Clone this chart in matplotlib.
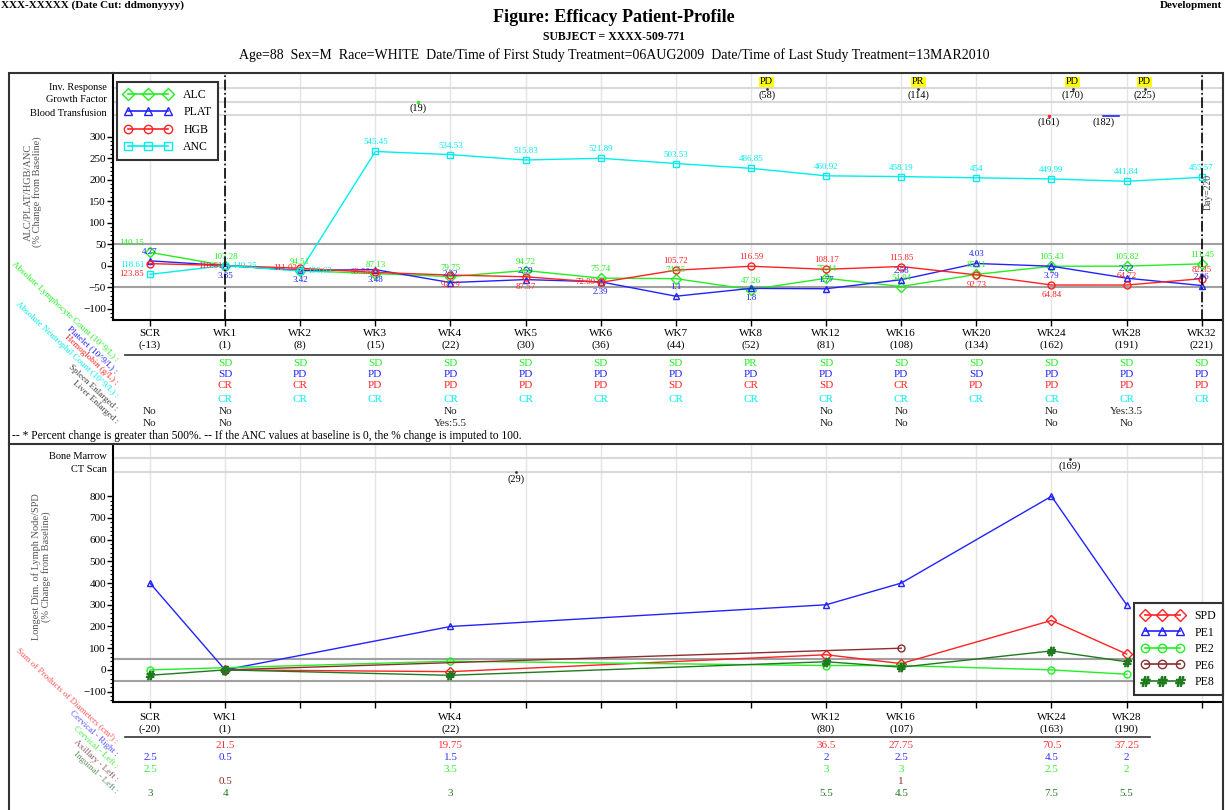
import numpy as np
import matplotlib
matplotlib.use('Agg')
import matplotlib.pyplot as plt
from matplotlib.lines import Line2D
from matplotlib.patches import Rectangle
from matplotlib.transforms import blended_transform_factory as blend

plt.rcParams['font.family'] = ['Liberation Serif', 'DejaVu Serif']

# ---- data: top panel (lab values) ----
visits = ['SCR', 'WK1', 'WK2', 'WK3', 'WK4', 'WK5', 'WK6', 'WK7', 'WK8',
          'WK12', 'WK16', 'WK20', 'WK24', 'WK28', 'WK32']
visit_days = [-13, 1, 8, 15, 22, 30, 36, 44, 52, 81, 108, 134, 162, 191, 221]

alc_val = ['140.15', '107.28', '94.51', '87.13', '79.75', '94.72', '75.74', '74.55',
           '47.26', '75.44', '54.94', '85.11', '105.43', '105.82', '111.45']
alc_pct = [30.6, 0, -11.9, -18.8, -25.7, -11.7, -29.4, -30.5, -55.9, -29.7, -48.8,
           -20.7, -1.7, -1.4, 3.9]
plat_val = ['4.27', '3.85', '3.42', '3.48', '2.32', '2.59', '2.39', '1.1', '1.8',
            '1.77', '2.58', '4.03', '3.79', '2.72', '2.06']
plat_pct = [10.9, 0, -11.2, -9.6, -39.7, -32.7, -37.9, -71.4, -53.2, -54.0, -33.0,
            4.7, -1.6, -29.4, -46.5]
hgb_val = ['123.85', '118.61', '111.02', '99.55', '92.29', '87.57', '72.09', '105.72',
           '116.59', '108.17', '115.85', '92.73', '64.84', '64.72', '82.35']
hgb_pct = [4.4, 0, -6.4, -16.1, -22.2, -26.2, -39.2, -10.9, -1.7, -8.8, -2.3, -21.8,
           -45.3, -45.4, -30.6]
anc_val = ['118.61', '149.35', '130.63', '545.45', '534.53', '515.83', '521.89', '503.53',
           '486.85', '460.92', '458.19', '454', '449.99', '441.84', '455.57']
anc_pct = [-20.6, 0, -12.5, 265.2, 257.9, 245.4, 249.4, 237.2, 226.0, 208.6, 206.8,
           204.0, 201.3, 195.8, 205.0]

alc_resp = ['', 'SD', 'SD', 'SD', 'SD', 'SD', 'SD', 'SD', 'PR', 'SD', 'SD', 'SD', 'SD', 'SD', 'SD']
plat_resp = ['', 'SD', 'PD', 'PD', 'PD', 'PD', 'PD', 'PD', 'PD', 'PD', 'PD', 'SD', 'PD', 'PD', 'PD']
hgb_resp = ['', 'CR', 'CR', 'PD', 'PD', 'PD', 'PD', 'SD', 'CR', 'SD', 'CR', 'PD', 'PD', 'PD', 'PD']
anc_resp = [''] + ['CR'] * 14
spleen = ['No', 'No', '', '', 'No', '', '', '', '', 'No', 'No', '', 'No', 'Yes:3.5', '']
liver = ['No', 'No', '', '', 'Yes:5.5', '', '', '', '', 'No', 'No', '', 'No', 'No', '']

inv_resp = ['PD', 'PR', 'PD', 'PD']
inv_days = [58, 114, 170, 225]
inv_pos = [8.21, 10.23, 12.28, 13.24]
gf_days = [19]
bt_days = [161]
bt_span = [182, 188]

# ---- data: bottom panel (lymph nodes) ----
bvisits = ['SCR', 'WK1', 'WK4', 'WK12', 'WK16', 'WK24', 'WK28']
bdays = [-20, 1, 22, 80, 107, 163, 190]
spd_pct = [np.nan, 0, -8.1, 69.8, 29.1, 227.9, 73.3]
pe1_pct = [400, 0, 200, 300, 400, 800, 300]
pe2_pct = [0, np.nan, 40, 20, 20, 0, -20]
pe6_pct = [np.nan, 0, np.nan, np.nan, 100, np.nan, np.nan]
pe8_pct = [-25, 0, -25, 37.5, 12.5, 87.5, 37.5]
spd_txt = ['', '21.5', '19.75', '36.5', '27.75', '70.5', '37.25']
cr_txt = ['2.5', '0.5', '1.5', '2', '2.5', '4.5', '2']
cl_txt = ['2.5', '', '3.5', '3', '3', '2.5', '2']
al_txt = ['', '0.5', '', '', '1', '', '']
il_txt = ['3', '4', '3', '5.5', '4.5', '7.5', '5.5']
bm_days = [169]
ct_days = [29]

# ---- colours / label placement ----
GRN, BLU, RED, CYN = '#22ee22', '#2222ff', '#ff2222', '#00eeee'
BRN, DGR = '#8b2e2e', '#1f7a1f'
alc_pos = ['al'] + ['a'] * 14
plat_pos = ['a', 'b', 'b', 'b', 'a', 'a', 'b', 'a', 'b', 'a', 'a', 'a', 'b', 'a', 'a']
hgb_pos = ['bl', 'l', 'l', 'l', 'b', 'b', 'l', 'a', 'a', 'a', 'a', 'b', 'b', 'a', 'a']
anc_pos = ['al', 'r', 'r'] + ['a'] * 12
offs = {'a': (0, 9), 'b': (0, -10), 'l': (-15, 0), 'r': (19, 0),
        'al': (-18, 9), 'bl': (-18, -10)}

W, H = 1225, 810


def fx(px):
    return px / W


def fy(py):
    return 1 - py / H


fig = plt.figure(figsize=(W / 100, H / 100), dpi=100)


def ptext(x, y, s, **kw):
    fig.text(fx(x), fy(y), s, **kw)


def hline(x0, x1, y, **kw):
    fig.add_artist(Line2D([fx(x0), fx(x1)], [fy(y), fy(y)], **kw))


# header
ptext(1, 0.5, 'XXX-XXXXX (Date Cut: ddmonyyyy)', fontsize=8, fontweight='bold', va='top')
ptext(1222, 0.5, 'Development', fontsize=8, fontweight='bold', va='top', ha='right')
ptext(614, 17, 'Figure: Efficacy Patient-Profile', fontsize=13, fontweight='bold',
      ha='center', va='center')
ptext(614, 37, 'SUBJECT = XXXX-509-771', fontsize=8.5, fontweight='bold', ha='center', va='center')
ptext(614, 55, 'Age=88  Sex=M  Race=WHITE  Date/Time of First Study Treatment=06AUG2009  '
      'Date/Time of Last Study Treatment=13MAR2010', fontsize=10, ha='center', va='center')

fig.add_artist(Rectangle((fx(8.5), fy(815)), fx(1223) - fx(8.5), fy(73) - fy(815),
                         transform=fig.transFigure, fill=False, lw=1.5, ec='#333333'))
hline(8.5, 1223, 444, color='#333333', lw=1.5)

x = np.arange(len(visits))

# ================= top panel =================
ax1 = fig.add_axes([fx(113), fy(320), fx(1222) - fx(113), fy(73) - fy(320)])
ax1.set_xlim(-0.492, 14.27)
ax1.set_ylim(-126.7, 447.7)
for s in ['top', 'right']:
    ax1.spines[s].set_visible(False)
for s in ['left', 'bottom']:
    ax1.spines[s].set_linewidth(1.5)
for i in x:
    ax1.axvline(i, color='#e4e4e4', lw=1, zorder=0)


def af1(py):
    return (320 - py) / (320 - 73)


for py in [88, 102, 115]:
    ax1.plot([0, 1], [af1(py)] * 2, transform=ax1.transAxes, color='#d9d9d9', lw=1.5, zorder=0)
ax1.axhline(50, color='#a0a0a0', lw=1.5, zorder=1)
ax1.axhline(-50, color='#a0a0a0', lw=1.5, zorder=1)

top_series = [(alc_pct, alc_val, GRN, 'D', alc_pos, 'ALC'),
              (plat_pct, plat_val, BLU, '^', plat_pos, 'PLAT'),
              (hgb_pct, hgb_val, RED, 'o', hgb_pos, 'HGB'),
              (anc_pct, anc_val, CYN, 's', anc_pos, 'ANC')]
handles = []
for pct, lab, col, mk, pos, name in top_series:
    ax1.plot(x, pct, color=col, marker=mk, mfc='none', mec=col, ms=5, lw=1, zorder=3)
    for xi, yi, t, p in zip(x, pct, lab, pos):
        ax1.annotate(t, (xi, yi), xytext=offs[p], textcoords='offset pixels',
                     ha='center', va='center', fontsize=6.5, color=col, zorder=4)
    handles.append(Line2D([], [], color=col, marker=mk, mfc='none', mec=col, ms=6, lw=1.2))

ax1.axvline(1, color='black', ls='-.', lw=1.2, zorder=5)
ax1.axvline(14, color='black', ls='-.', lw=1.2, zorder=5)
ax1.text(14.09, fy(192), 'Day=220', transform=blend(ax1.transData, fig.transFigure),
         rotation=90, ha='center', va='center', fontsize=7, color='#444444')

ax1.set_yticks(np.arange(-100, 301, 50))
ax1.set_yticks(np.arange(-120, 301, 10), minor=True)
ax1.set_xticks(x)
ax1.set_xticklabels([f'{v}\n({d})' for v, d in zip(visits, visit_days)], fontsize=8,
                    linespacing=1.3)
ax1.tick_params(axis='y', labelsize=8, length=4, width=1, direction='out', pad=1)
ax1.tick_params(axis='y', which='minor', length=2, width=0.8)
ax1.tick_params(axis='x', length=4, width=1, pad=2.5)

leg1 = ax1.legend(handles, [t[5] for t in top_series], numpoints=3, handlelength=4.0,
                  loc='upper left', bbox_to_anchor=(fx(117), fy(82)),
                  bbox_transform=fig.transFigure, fontsize=8.5, fancybox=False,
                  edgecolor='#333333', framealpha=1, borderpad=0.6, labelspacing=0.45,
                  handletextpad=1.0, borderaxespad=0)
leg1.get_frame().set_linewidth(1.5)

# event rows
ev1 = blend(ax1.transData, ax1.transAxes)
for xp, t, d in zip(inv_pos, inv_resp, inv_days):
    ax1.text(xp, af1(82), t, transform=ev1, ha='center', va='center', fontsize=7.5,
             bbox=dict(fc='yellow', ec='none', pad=0.6))
    ax1.plot(xp, af1(89), marker='.', ms=2, color='#333333', transform=ev1)
    ax1.text(xp, af1(95.5), f'({d})', transform=ev1, ha='center', va='center', fontsize=7.5)
for d in gf_days:
    xp = np.interp(d, visit_days, x)
    ax1.plot(xp, af1(102), marker='.', ms=3, color=GRN, transform=ev1)
    ax1.text(xp, af1(108.5), f'({d})', transform=ev1, ha='center', va='center', fontsize=7.5)
for d in bt_days:
    xp = np.interp(d, visit_days, x)
    ax1.plot(xp, af1(115.5), marker='.', ms=3, color=RED, transform=ev1)
    ax1.text(xp, af1(122.5), f'({d})', transform=ev1, ha='center', va='center', fontsize=7.5)
xs = np.interp(bt_span, visit_days, x)
ax1.plot(xs, [af1(115.5)] * 2, color=BLU, lw=1.2, transform=ev1)
ax1.text(xs[0], af1(122), f'({bt_span[0]})', transform=ev1, ha='center', va='center', fontsize=7.5)

for t, py in [('Inv. Response', 87), ('Growth Factor', 100), ('Blood Transfusion', 113)]:
    ptext(107, py, t, ha='right', va='center', fontsize=7.5)
ptext(33, 192, 'ALC/PLAT/HGB/ANC\n(% Change from Baseline)', rotation=90, ha='center',
      va='center', fontsize=7.5, color='#555555', linespacing=0.95)

# table under top panel
hline(125, 1222, 355, color='#333333', lw=1.2)
tr1 = blend(ax1.transData, fig.transFigure)
for row, col, py in [(alc_resp, GRN, 363), (plat_resp, BLU, 374.5), (hgb_resp, RED, 386),
                     (anc_resp, CYN, 399), (spleen, '#222222', 412), (liver, '#222222', 423.5)]:
    for xi, s in zip(x, row):
        if s:
            ax1.text(xi, fy(py), s, transform=tr1, ha='center', va='center', fontsize=8,
                     color=col, clip_on=False)
for t, col, py in [('Absolute Lymphocyte Count (10^9/L) :', GRN, 360),
                   ('Platelet (10^9/L) :', BLU, 372),
                   ('Hemoglobin (g/L) :', RED, 384),
                   ('Absolute Neutrophil Count (10^9/L) :', CYN, 397),
                   ('Spleen Enlarged :', '#444444', 410),
                   ('Liver Enlarged :', '#444444', 422)]:
    ptext(117, py, t, ha='right', va='center', rotation=-43, rotation_mode='anchor',
          fontsize=6.5, color=col)
ptext(12, 436.5, '-- * Percent change is greater than 500%. -- If the ANC values at baseline '
      'is 0, the % change is imputed to 100.', ha='left', va='center', fontsize=8.3)

# ================= bottom panel =================
ax2 = fig.add_axes([fx(113), fy(702), fx(1222) - fx(113), fy(444) - fy(702)])
ax2.set_xlim(-0.492, 14.27)
ax2.set_ylim(-148, 1041)
for s in ['top', 'right']:
    ax2.spines[s].set_visible(False)
for s in ['left', 'bottom']:
    ax2.spines[s].set_linewidth(1.5)
for i in x:
    ax2.axvline(i, color='#e4e4e4', lw=1, zorder=0)


def af2(py):
    return (702 - py) / (702 - 444)


for py in [458, 472]:
    ax2.plot([0, 1], [af2(py)] * 2, transform=ax2.transAxes, color='#d9d9d9', lw=1.5, zorder=0)
ax2.axhline(50, color='#a0a0a0', lw=1.5, zorder=1)
ax2.axhline(-50, color='#a0a0a0', lw=1.5, zorder=1)

bx = np.array([visits.index(v) for v in bvisits])
bot_series = [(spd_pct, RED, 'D', 'SPD'), (pe1_pct, BLU, '^', 'PE1'),
              (pe2_pct, GRN, 'o', 'PE2'), (pe6_pct, BRN, 'o', 'PE6'),
              (pe8_pct, DGR, r'$\#$', 'PE8')]
handles2 = []
for pct, col, mk, name in bot_series:
    p = np.array(pct, dtype=float)
    m = ~np.isnan(p)
    ms = 6 if mk.startswith('$') else 5
    ax2.plot(bx[m], p[m], color=col, marker=mk, mfc='none', mec=col, ms=ms, lw=1, zorder=3)
    handles2.append(Line2D([], [], color=col, marker=mk, mfc='none', mec=col, ms=ms + 1, lw=1.2))

ax2.set_yticks(np.arange(-100, 801, 100))
ax2.set_yticks(np.arange(-140, 801, 20), minor=True)
ax2.set_xticks(x)
blab = []
for v in visits:
    if v in bvisits:
        blab.append(f'{v}\n({bdays[bvisits.index(v)]})')
    else:
        blab.append('')
ax2.set_xticklabels(blab, fontsize=8, linespacing=1.3)
ax2.tick_params(axis='y', labelsize=8, length=4, width=1, direction='out', pad=1)
ax2.tick_params(axis='y', which='minor', length=2, width=0.8)
ax2.tick_params(axis='x', length=4, width=1, pad=4)

leg2 = ax2.legend(handles2, [t[3] for t in bot_series], numpoints=3, handlelength=3.6,
                  loc='upper left', bbox_to_anchor=(fx(1134), fy(603)),
                  bbox_transform=fig.transFigure, fontsize=8.5, fancybox=False,
                  edgecolor='#333333', framealpha=1, borderpad=0.6, labelspacing=0.38,
                  handletextpad=0.9, borderaxespad=0)
leg2.get_frame().set_linewidth(1.5)

ev2 = blend(ax2.transData, ax2.transAxes)
for d in bm_days:
    xp = np.interp(d, visit_days, x)
    ax2.plot(xp, af2(459), marker='.', ms=2, color='#333333', transform=ev2)
    ax2.text(xp, af2(466), f'({d})', transform=ev2, ha='center', va='center', fontsize=7.5)
for d in ct_days:
    xp = np.interp(d, visit_days, x)
    ax2.plot(xp, af2(472), marker='.', ms=2, color='#333333', transform=ev2)
    ax2.text(xp, af2(479), f'({d})', transform=ev2, ha='center', va='center', fontsize=7.5)

ptext(107, 456, 'Bone Marrow', ha='right', va='center', fontsize=7.5)
ptext(107, 470, 'CT Scan', ha='right', va='center', fontsize=7.5)
ptext(41, 567, 'Longest Dim. of Lymph Node/SPD\n(% Change from Baseline)', rotation=90,
      ha='center', va='center', fontsize=7.5, color='#555555', linespacing=0.95)

hline(125, 1150, 737, color='#333333', lw=1.2)
tr2 = blend(ax2.transData, fig.transFigure)
for row, col, py in [(spd_txt, '#ff3333', 746), (cr_txt, '#3333ff', 757),
                     (cl_txt, '#33ee33', 769), (al_txt, BRN, 781.5), (il_txt, DGR, 793)]:
    for xi, s in zip(bx, row):
        if s:
            ax2.text(xi, fy(py), s, transform=tr2, ha='center', va='center', fontsize=8,
                     color=col, clip_on=False)
for t, col, py in [('Sum of Products of Diameters (cm²) :', '#ff5555', 742),
                   ('Cervical - Right :', '#5555ff', 755),
                   ('Cervical - Left :', '#44ee44', 767),
                   ('Axillary - Left :', '#8b5a5a', 780),
                   ('Inguinal - Left :', '#5f8f5f', 792)]:
    ptext(117, py, t, ha='right', va='center', rotation=-43, rotation_mode='anchor',
          fontsize=6.5, color=col)

fig.savefig('out.png', dpi=100)
